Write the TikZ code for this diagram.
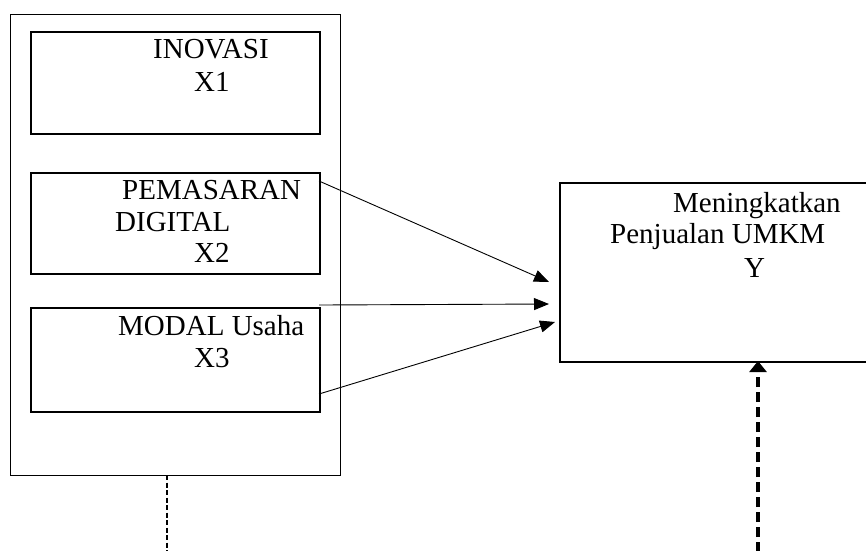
\documentclass[tikz,border=0pt]{standalone}
\usepackage{fontspec}
\setmainfont{Liberation Serif}
\usetikzlibrary{arrows.meta,calc,positioning}
\tikzset{
 kerangka/.style={x=1pt,y=-1pt,line cap=butt,line join=miter},
 frame/.style={draw,line width=1pt,inner sep=0pt,anchor=north west},
 varbox/.style={draw,line width=2pt,inner sep=0pt,anchor=north west},
 lbl/.style={anchor=base west,inner sep=0pt,font=\fontsize{29}{33}\selectfont},
 link/.style={draw,line width=.9pt,-{Triangle[length=15pt,width=12pt]}},
 effect/.style={draw,line width=3.5pt,dash pattern=on 10pt off 5pt,-{Triangle[length=11pt,width=17pt]}},
 feed/.style={draw,line width=1.6pt,dash pattern=on 5pt off 2.5pt}
}

\begin{document}
\begin{tikzpicture}[kerangka]
 \useasboundingbox (0,0) rectangle (866,550);
 % variable boxes
 \node[frame,minimum width=330pt,minimum height=461pt] (grp) at (10,14) {};
 \node[varbox,minimum width=289pt,minimum height=102pt] (x1) at (30,31) {};
 \node[varbox,minimum width=289pt,minimum height=101pt] (x2) at (30,172) {};
 \node[varbox,minimum width=289pt,minimum height=104pt] (x3) at (30,307) {};
 \node[varbox,minimum width=320pt,minimum height=179pt] (y) at (559,182) {};
 % labels
 \node[lbl] (x1a) at (153,58) {INOVASI};
 \node[lbl] (x1b) at (194,91) {X1};
 \node[lbl] (x2a) at (122,199) {PEMASARAN};
 \node[lbl] (x2b) at (115,231) {DIGITAL};
 \node[lbl] (x2c) at (194,262) {X2};
 \node[lbl] (x3a) at (118,335) {MODAL Usaha};
 \node[lbl] (x3b) at (194,367) {X3};
 \node[lbl] (ya) at (673,212) {Meningkatkan};
 \node[lbl] (yb) at (610,243) {Penjualan UMKM};
 \node[lbl] (yc) at (744,277) {Y};
 % arrows
 \coordinate (s1) at (319,181);
 \coordinate (s2) at (319,305);
 \coordinate (s3) at (319,394);
 \coordinate (t1) at (549,282);
 \coordinate (t2) at (549,304);
 \coordinate (t3) at (555,322);
 \draw[link] (s1) -- (t1);
 \draw[link] (s2) -- (t2);
 \draw[link] (s3) -- (t3);
 \coordinate (yin) at (758,361);
 \coordinate (yfoot) at (758,552);
 \draw[effect] (yfoot) -- (yin);
 \coordinate (gout) at (167,475);
 \coordinate (gfoot) at (167,552);
 \draw[feed] (gout) -- (gfoot);
\end{tikzpicture}
\end{document}
